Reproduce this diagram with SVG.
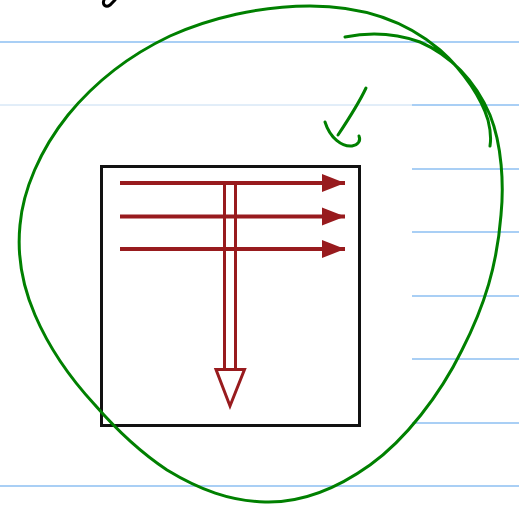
<svg xmlns="http://www.w3.org/2000/svg" width="519" height="507" viewBox="0 0 519 507">
<style>
.rule{stroke:#a9cff5;stroke-width:2;fill:none}
.rulethin{stroke:#c5dcf2;stroke-width:1;fill:none}
.ink{stroke:#008000;stroke-width:3;fill:none;stroke-linecap:round;stroke-linejoin:round}
.red{stroke:#981b1e;stroke-width:4;fill:none}
.redv{stroke:#981b1e;stroke-width:3;fill:none}
</style>
<defs>
<marker id="ah" markerUnits="userSpaceOnUse" markerWidth="24" markerHeight="20" refX="23" refY="9" orient="auto" viewBox="0 0 24 18">
<path d="M0,0 L23,9 L0,18 Z" fill="#981b1e"/>
</marker>
</defs>
<rect width="519" height="507" fill="#ffffff"/>
<g id="rules">
<line class="rule" x1="0" y1="42" x2="519" y2="42"/>
<line class="rulethin" x1="0" y1="105" x2="412" y2="105"/>
<line class="rule" x1="412" y1="105" x2="519" y2="105"/>
<line class="rule" x1="412" y1="169" x2="519" y2="169"/>
<line class="rule" x1="412" y1="232" x2="519" y2="232"/>
<line class="rule" x1="412" y1="296" x2="519" y2="296"/>
<line class="rule" x1="412" y1="359" x2="519" y2="359"/>
<line class="rule" x1="412" y1="423" x2="519" y2="423"/>
<line class="rule" x1="0" y1="486" x2="519" y2="486"/>
</g>
<g id="box">
<rect x="101.5" y="166.5" width="258" height="259" fill="none" stroke="#111111" stroke-width="3"/>
</g>
<g id="connectors">
<line class="red" x1="120" y1="183" x2="345" y2="183" marker-end="url(#ah)"/>
<line class="red" x1="120" y1="216.5" x2="345" y2="216.5" marker-end="url(#ah)"/>
<line class="red" x1="120" y1="249" x2="345" y2="249" marker-end="url(#ah)"/>
<line class="redv" x1="224.5" y1="182" x2="224.5" y2="369"/>
<line class="redv" x1="235.5" y1="182" x2="235.5" y2="369"/>
<path d="M216,369.5 L244.5,369.5 L230,406 Z" fill="#ffffff" stroke="#981b1e" stroke-width="3" stroke-linejoin="miter"/>
</g>
<g id="annotations">
<path class="ink" d="M345,37 C365,33 392,32 420,42 C450,55 475,80 490,115 C502,145 504,185 501,215 C497,265 485,305 462,350 C440,395 405,440 370,465 C335,490 300,503 265,502 C230,501 200,490 167,470 C140,452 115,428 95,405 C70,378 50,350 35,315 C22,285 17,255 20,225 C23,190 40,150 68,115 C95,82 130,55 170,36 C210,18 260,6 310,6 C360,6 405,20 440,50 C465,72 482,100 488,120 C491,132 491,140 490,146"/>
<path class="ink" d="M366,88 C358,105 348,120 338,135"/>
<path class="ink" d="M325,122 C330,138 342,147 352,146 C358,145 361,141 359,136"/>
<path d="M104,0 C102,5 106,8 110,5 L115,0" fill="none" stroke="#000000" stroke-width="3" stroke-linecap="round"/>
</g>
</svg>
